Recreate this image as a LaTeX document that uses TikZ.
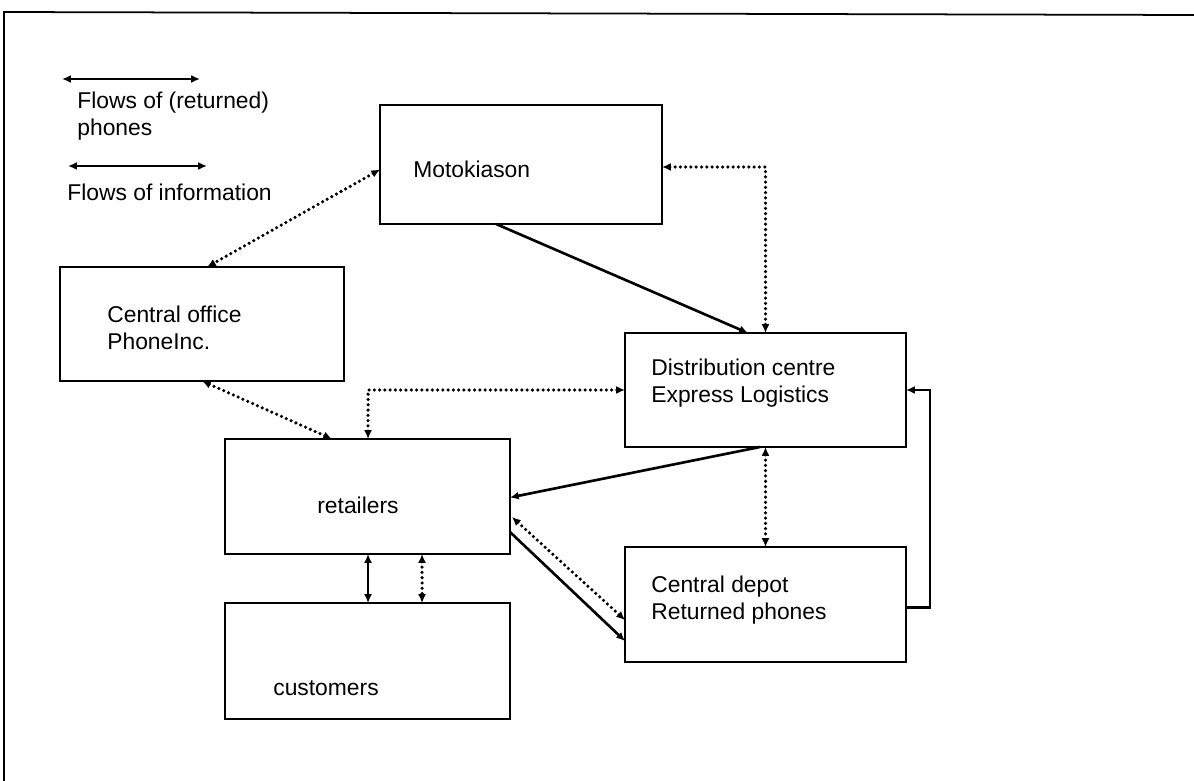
\documentclass[tikz,border=0pt]{standalone}
\usepackage{fontspec}
\setmainfont{Liberation Sans}
\usetikzlibrary{arrows.meta,calc}
\begin{document}
\begin{tikzpicture}[x=0.02cm,y=-0.02cm,
    box/.style={draw, line width=1pt, inner sep=0pt, outer sep=0pt},
    txt/.style={anchor=west, inner sep=0pt, align=left, font=\fontsize{13}{15}\selectfont},
    tip/.style={-{Latex[length=5pt,width=4.5pt]}},
    both/.style={{Latex[length=5pt,width=4.5pt]}-{Latex[length=5pt,width=4.5pt]}},
    flow/.style={line width=1.5pt},
    info/.style={line width=2pt, line cap=round, dash pattern=on 0pt off 3pt}]
    \useasboundingbox (0,0) rectangle (1194,781);
    \draw[line width=1pt] (4,781) -- (4,12) -- (1194,15);

    % legend
    \coordinate (la) at (62,79);
    \coordinate (lb) at (200,79);
    \coordinate (lc) at (68,166);
    \coordinate (ld) at (207,166);
    \draw[line width=1pt, both] (la) -- (lb);
    \draw[line width=1pt, both] (lc) -- (ld);
    \node[txt] (lgphones) at (77,116) {Flows of (returned)\\phones};
    \node[txt] (lginfo) at (67,192) {Flows of information};

    % boxes
    \node[box, minimum width=5.64cm, minimum height=2.38cm] (moto) at (521,164.5) {};
    \node[box, minimum width=5.68cm, minimum height=2.28cm] (office) at (202,324) {};
    \node[box, minimum width=5.62cm, minimum height=2.28cm] (dist) at (765.5,390) {};
    \node[box, minimum width=5.70cm, minimum height=2.30cm] (retail) at (367.5,496.5) {};
    \node[box, minimum width=5.70cm, minimum height=2.32cm] (cust) at (367.5,661) {};
    \node[box, minimum width=5.62cm, minimum height=2.30cm] (depot) at (765.5,604.5) {};

    \node[txt] (motot) at (413,169) {Motokiason};
    \node[txt] (officet) at (107,328) {Central office\\PhoneInc.};
    \node[txt] (distt) at (651,383) {Distribution centre\\Express Logistics};
    \node[txt] (retailt) at (317,505) {retailers};
    \node[txt] (custt) at (273,688) {customers};
    \node[txt] (depott) at (651,600) {Central depot\\Returned phones};

    % flows
    \draw[info, both] ($(moto.west)+(0,5)$) -- ($(office.north west)+(147,0)$);
    \draw[flow, tip] ($(moto.south west)+(116,0)$) -- ($(dist.north west)+(123,0)$);
    \draw[info, both] ($(moto.east)+(0,2.5)$) -| (dist.north);
    \draw[info, both] ($(office.south west)+(142,0)$) -- ($(retail.north west)+(107,0)$);
    \draw[info, both] ($(retail.north west)+(143,0)$) |- (dist.west);
    \draw[flow, tip] ($(dist.south west)+(135,0)$) -- ($(retail.east)+(0,1)$);
    \draw[info, both] (dist.south) -- (depot.north);
    \draw[flow, tip] ($(depot.east)+(0,3)$) -- ++(24,0) |- (dist.east);
    \draw[info, both] ($(retail.north east)+(2,78)$) -- ($(depot.north west)+(0,73)$);
    \draw[flow, tip] ($(retail.north east)+(0,93)$) -- ($(depot.north west)+(0,94)$);
    \draw[flow, both] ($(retail.south west)+(143,0)$) -- ($(cust.north west)+(143,0)$);
    \draw[info, both] ($(retail.south west)+(197,0)$) -- ($(cust.north west)+(197,0)$);
\end{tikzpicture}
\end{document}
